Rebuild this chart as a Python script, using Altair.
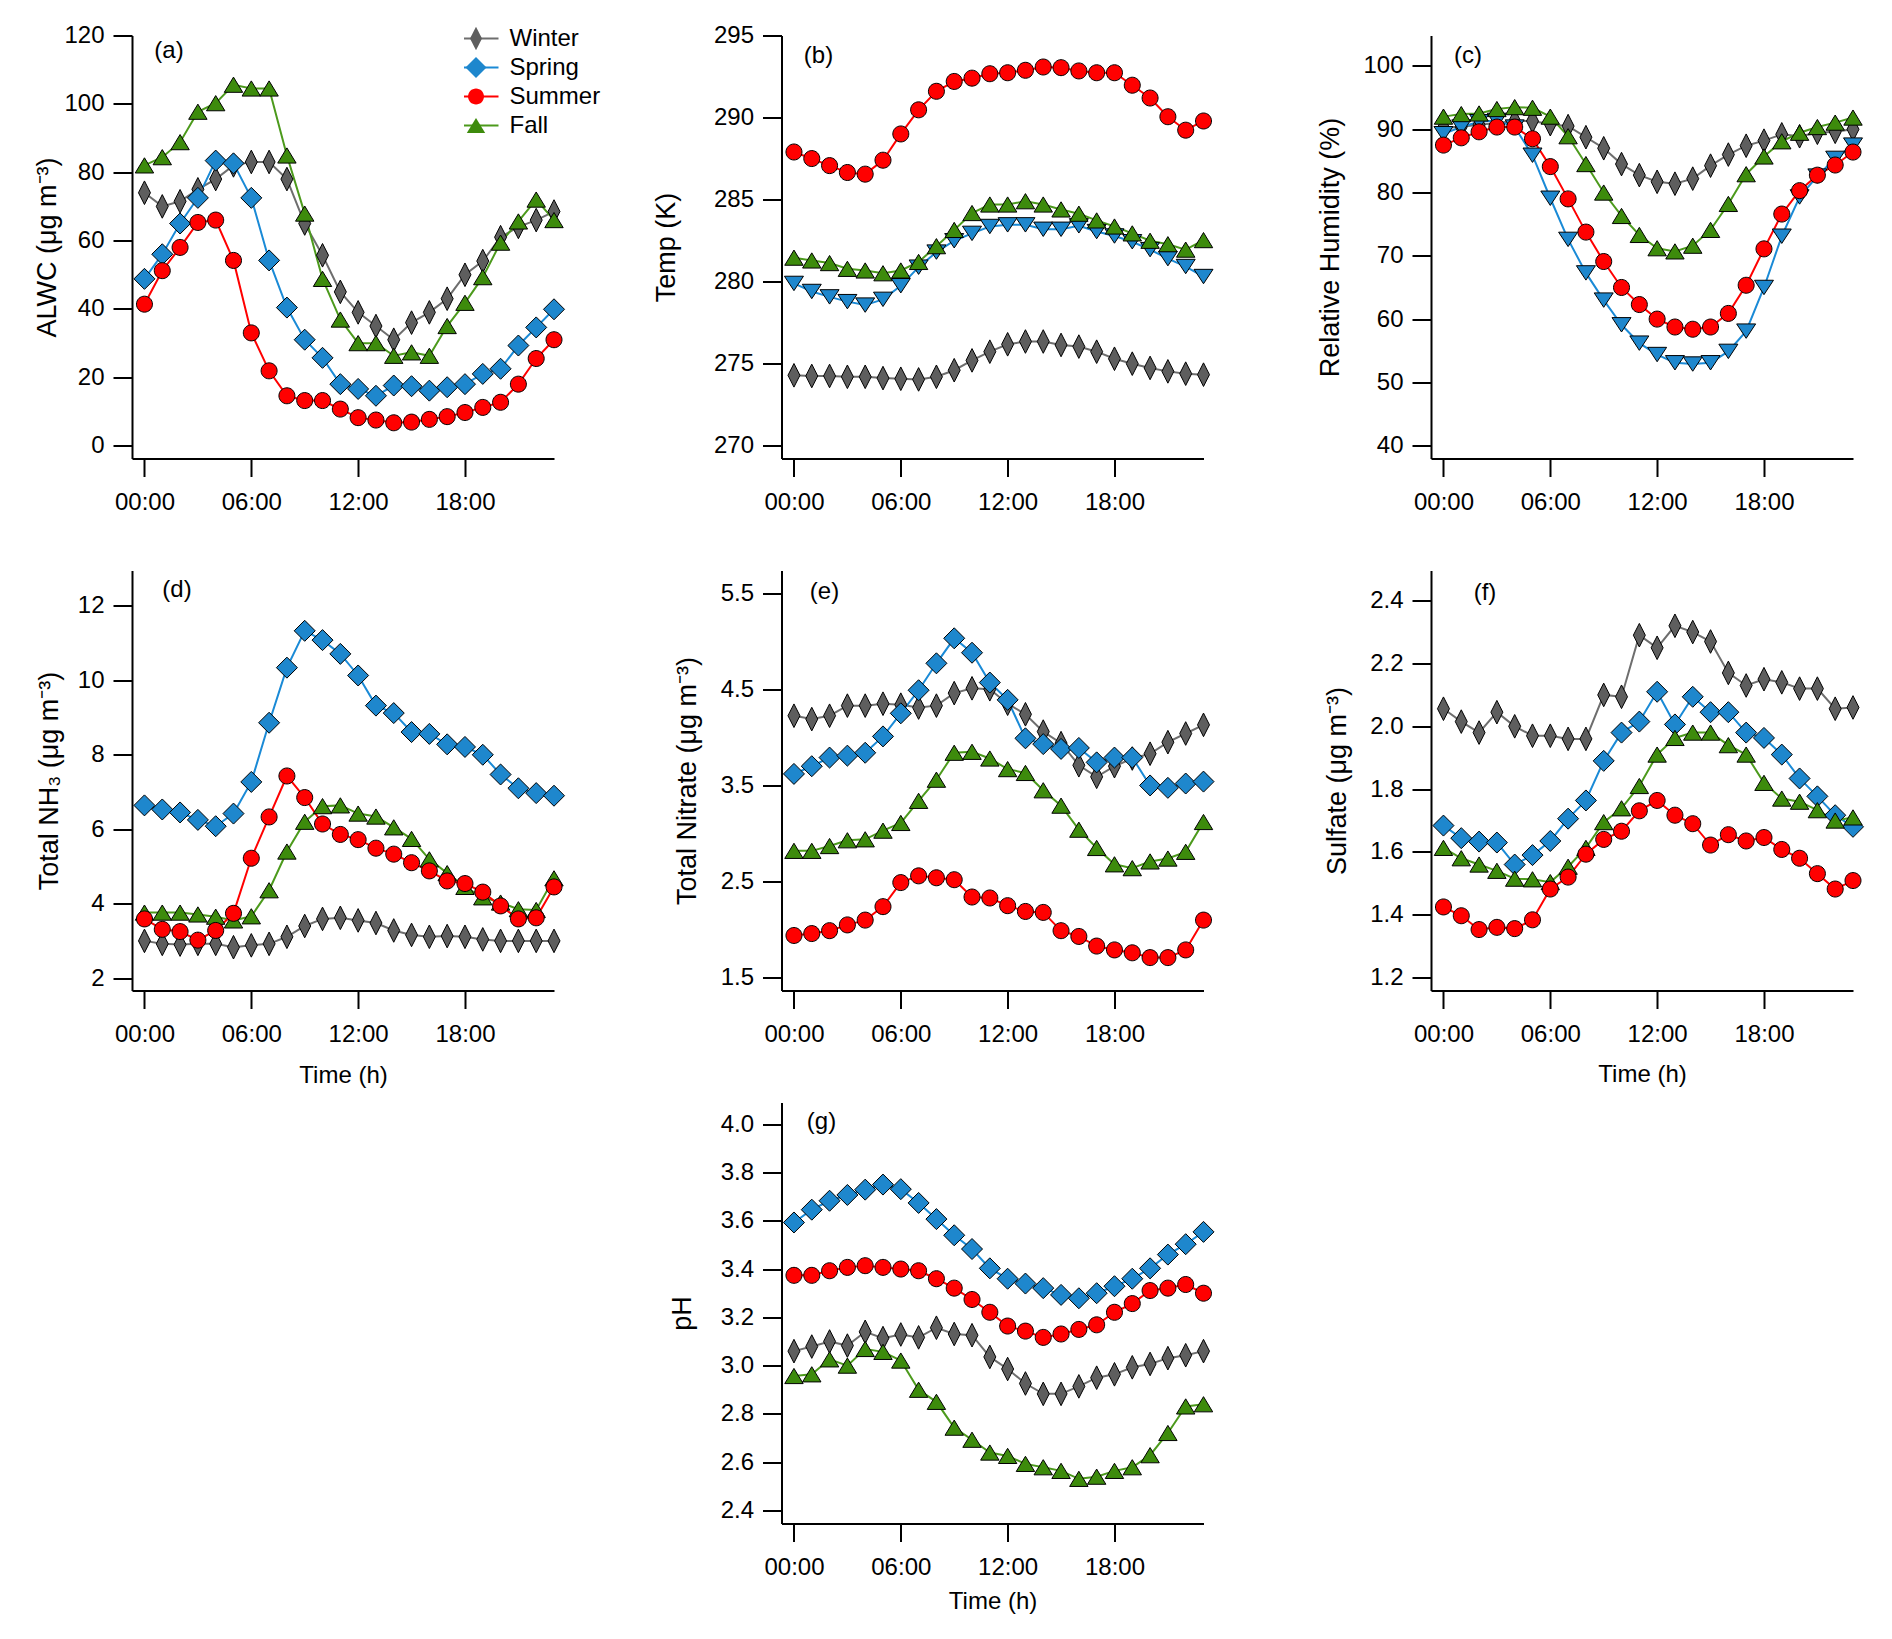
import json
import altair as alt
import pandas as pd

FONT = "Liberation Sans, Arial, sans-serif"

hours = list(range(24))
seasons = ["Winter", "Spring", "Summer", "Fall"]
draw_order = ["Winter", "Spring", "Fall", "Summer"]
x_tick_hours = [0, 6, 12, 18]
x_tick_labels = ["00:00", "06:00", "12:00", "18:00"]

# (a) ALWC (ug m-3)
alwc_winter = [74, 70, 71.5, 75, 78, 82, 83, 83, 78, 65, 55.7, 45, 39, 35, 31, 36, 39, 43, 50, 54, 61, 64, 66, 68.5]
alwc_spring = [48.8, 56, 65, 72.5, 83.4, 82.6, 72.5, 54.2, 40.4, 31, 25.7, 18, 16.6, 14.6, 17.6, 17.4, 16.1, 17.1, 18, 21, 22.5, 29.3, 34.6, 39.9]
alwc_summer = [41.4, 51.2, 58, 65.3, 66, 54.2, 33, 21.9, 14.6, 13.2, 13.2, 10.7, 8.2, 7.5, 6.7, 6.9, 7.7, 8.5, 9.7, 11.2, 12.7, 18, 25.5, 31]
alwc_fall = [82, 84.4, 88.8, 97.7, 100.2, 105.6, 104.5, 104.5, 84.9, 67.9, 48.8, 36.9, 30, 30, 26.3, 27.3, 26.3, 35, 41.8, 49.3, 59.4, 65.6, 72, 66]

# (b) Temp (K)
temp_winter = [274.29, 274.25, 274.25, 274.2, 274.2, 274.12, 274.08, 274.04, 274.2, 274.6, 275.2, 275.73, 276.18, 276.35, 276.35, 276.14, 276.04, 275.73, 275.3, 275.0, 274.74, 274.53, 274.39, 274.33]
temp_spring = [279.89, 279.4, 279.07, 278.78, 278.57, 278.92, 279.75, 280.88, 281.8, 282.49, 282.94, 283.36, 283.46, 283.46, 283.19, 283.19, 283.4, 283.05, 282.78, 282.43, 281.95, 281.4, 280.92, 280.31]
temp_summer = [287.9, 287.5, 287.07, 286.65, 286.55, 287.4, 289.0, 290.47, 291.6, 292.2, 292.4, 292.67, 292.73, 292.88, 293.08, 293.04, 292.84, 292.73, 292.73, 291.97, 291.19, 290.05, 289.23, 289.79]
temp_fall = [281.46, 281.29, 281.13, 280.78, 280.68, 280.51, 280.68, 281.2, 282.16, 283.15, 284.18, 284.7, 284.7, 284.9, 284.7, 284.4, 284.14, 283.73, 283.36, 282.94, 282.49, 282.28, 281.95, 282.53]

# (c) Relative humidity (%)
rh_winter = [90.25, 90.4, 90.7, 91, 91.3, 91.3, 90.8, 90.5, 88.75, 87.0, 84.5, 82.75, 81.7, 81.4, 82.2, 84.25, 86, 87.4, 88.2, 89.2, 88.9, 89.45, 89.6, 90]
rh_spring = [89.3, 90.35, 91.2, 91.4, 90.35, 85.9, 79.1, 72.6, 67.3, 63.0, 59.1, 56.2, 54.4, 53.1, 52.9, 53.1, 54.9, 58.1, 65.0, 73.1, 79.3, 82.6, 85.4, 87.5]
rh_summer = [87.5, 88.65, 89.6, 90.35, 90.35, 88.5, 84.1, 79, 73.75, 69.1, 65, 62.3, 60, 58.75, 58.4, 58.75, 60.9, 65.35, 71.1, 76.6, 80.3, 82.75, 84.35, 86.4]
rh_fall = [92, 92.4, 92.5, 93.2, 93.5, 93.4, 92, 88.9, 84.5, 80, 76.3, 73.3, 71.2, 70.7, 71.6, 74.1, 78.2, 82.9, 85.7, 88.1, 89.45, 90.35, 91.05, 91.85]

# (d) Total NH3 (ug m-3)
nh3_winter = [3.0, 2.92, 2.9, 2.92, 2.92, 2.83, 2.88, 2.92, 3.11, 3.4, 3.59, 3.62, 3.55, 3.48, 3.28, 3.16, 3.11, 3.13, 3.11, 3.04, 3.0, 3.0, 3.0, 3.0]
nh3_spring = [6.64, 6.53, 6.45, 6.25, 6.08, 6.42, 7.27, 8.86, 10.34, 11.33, 11.08, 10.71, 10.13, 9.32, 9.12, 8.61, 8.56, 8.28, 8.21, 8.0, 7.47, 7.1, 6.97, 6.9]
nh3_summer = [3.59, 3.31, 3.25, 3.02, 3.28, 3.74, 5.22, 6.33, 7.43, 6.85, 6.14, 5.86, 5.72, 5.49, 5.33, 5.1, 4.88, 4.61, 4.54, 4.31, 3.94, 3.59, 3.62, 4.45]
nh3_fall = [3.76, 3.76, 3.76, 3.71, 3.65, 3.55, 3.66, 4.36, 5.4, 6.2, 6.62, 6.64, 6.42, 6.34, 6.05, 5.74, 5.19, 4.82, 4.45, 4.17, 4.03, 3.85, 3.83, 4.68]

# (e) Total nitrate (ug m-3)
no3_winter = [4.225, 4.19, 4.225, 4.33, 4.33, 4.35, 4.34, 4.31, 4.33, 4.46, 4.51, 4.5, 4.35, 4.24, 4.06, 3.94, 3.71, 3.59, 3.7, 3.78, 3.83, 3.95, 4.04, 4.13]
no3_spring = [3.62, 3.7, 3.79, 3.81, 3.84, 4.01, 4.25, 4.49, 4.77, 5.03, 4.88, 4.57, 4.39, 3.99, 3.93, 3.88, 3.89, 3.74, 3.79, 3.79, 3.5, 3.475, 3.52, 3.54]
no3_summer = [1.94, 1.96, 1.99, 2.05, 2.1, 2.24, 2.49, 2.56, 2.54, 2.52, 2.34, 2.33, 2.25, 2.19, 2.18, 1.99, 1.93, 1.83, 1.79, 1.76, 1.71, 1.71, 1.79, 2.1]
no3_fall = [2.82, 2.82, 2.87, 2.93, 2.94, 3.03, 3.11, 3.34, 3.56, 3.84, 3.85, 3.78, 3.67, 3.63, 3.45, 3.29, 3.04, 2.85, 2.68, 2.64, 2.71, 2.74, 2.81, 3.12]

# (f) Sulfate (ug m-3)
so4_winter = [2.056, 2.015, 1.98, 2.045, 2.0, 1.97, 1.97, 1.96, 1.96, 2.1, 2.094, 2.29, 2.25, 2.32, 2.30, 2.27, 2.17, 2.13, 2.15, 2.14, 2.12, 2.12, 2.056, 2.06]
so4_spring = [1.684, 1.644, 1.633, 1.63, 1.56, 1.59, 1.635, 1.706, 1.764, 1.89, 1.98, 2.015, 2.11, 2.006, 2.094, 2.045, 2.045, 1.98, 1.963, 1.91, 1.834, 1.777, 1.717, 1.68]
so4_summer = [1.425, 1.397, 1.353, 1.36, 1.356, 1.384, 1.482, 1.52, 1.593, 1.64, 1.666, 1.731, 1.764, 1.717, 1.69, 1.622, 1.655, 1.635, 1.646, 1.608, 1.58, 1.531, 1.482, 1.509]
so4_fall = [1.613, 1.58, 1.56, 1.54, 1.515, 1.513, 1.504, 1.553, 1.613, 1.695, 1.739, 1.81, 1.91, 1.963, 1.98, 1.98, 1.94, 1.91, 1.82, 1.77, 1.76, 1.733, 1.70, 1.71]

# (g) pH
ph_winter = [3.06, 3.079, 3.1, 3.083, 3.14, 3.114, 3.129, 3.117, 3.157, 3.131, 3.126, 3.036, 2.986, 2.926, 2.883, 2.883, 2.914, 2.95, 2.964, 2.993, 3.007, 3.031, 3.043, 3.06]
ph_spring = [3.593, 3.646, 3.683, 3.707, 3.729, 3.75, 3.731, 3.674, 3.607, 3.54, 3.483, 3.403, 3.36, 3.34, 3.321, 3.293, 3.279, 3.3, 3.329, 3.36, 3.403, 3.46, 3.503, 3.554]
ph_summer = [3.374, 3.374, 3.393, 3.407, 3.414, 3.407, 3.4, 3.393, 3.36, 3.321, 3.274, 3.221, 3.164, 3.143, 3.117, 3.131, 3.15, 3.169, 3.221, 3.257, 3.311, 3.321, 3.336, 3.3]
ph_fall = [2.957, 2.964, 3.026, 3.0, 3.069, 3.057, 3.021, 2.9, 2.85, 2.743, 2.693, 2.64, 2.626, 2.593, 2.579, 2.564, 2.531, 2.54, 2.564, 2.579, 2.629, 2.721, 2.831, 2.84]

line_colors = ["#6e6e6e", "#1a8ad6", "#ff0000", "#4c9a1c"]
fill_colors = ["#5e5e5e", "#1e87cd", "#ff0000", "#3d8b0c"]

WINTER_SHAPE = "M0,-1.18L0.6,0L0,1.18L-0.6,0Z"
DIAMOND_SHAPE = "M0,-1.05L1.05,0L0,1.05L-1.05,0Z"
CIRCLE_SHAPE = "M0.8,0A0.8,0.8,0,1,1,-0.8,0A0.8,0.8,0,1,1,0.8,0Z"
TRI_UP = "M0,-0.76L0.92,0.76L-0.92,0.76Z"
TRI_DOWN = "M0,0.72L0.95,-0.72L-0.95,-0.72Z"
LEGEND_LINE = "M-2.25,0L2.25,0"
MARK_SIZE = 400

# line-legend domain values differ (trailing space) so the two legends are not merged
line_keys = [s + " " for s in seasons]

label_expr = f"{json.dumps(x_tick_labels)}[indexof({json.dumps(x_tick_hours)}, datum.value)]"

W = 422


def make_df(series):
    rows = []
    for s in draw_order:
        for h, v in zip(hours, series[s]):
            rows.append({"hour": h, "season": s, "season_l": s + " ", "value": v})
    return pd.DataFrame(rows)


def panel(series, ytitle, ydomain, yticks, yfmt, ytp, letter, lpos, h,
          spring_shape, xtitle_pad=None, legend=False):
    df = make_df(series)
    xkw = dict(values=x_tick_hours, labelExpr=label_expr)
    if xtitle_pad is not None:
        xkw.update(title="Time (h)", titlePadding=xtitle_pad)
    else:
        xkw.update(title=None)
    x = alt.X("hour:Q", scale=alt.Scale(domain=[-0.7, 23], nice=False, zero=False),
              axis=alt.Axis(**xkw))
    y = alt.Y("value:Q", scale=alt.Scale(domain=ydomain, nice=False, zero=False),
              axis=alt.Axis(values=yticks, format=yfmt, title=ytitle, titlePadding=ytp))
    shapes = [WINTER_SHAPE, spring_shape, CIRCLE_SHAPE, TRI_UP]
    if legend:
        common = dict(orient="none", legendX=332, legendY=-10, title=None,
                      symbolSize=MARK_SIZE, labelFont=FONT, labelFontSize=24,
                      labelOffset=21.5, rowPadding=3, padding=0, clipHeight=26)
        line_leg = alt.Legend(symbolType=LEGEND_LINE, symbolStrokeWidth=2,
                              labelExpr="''", zindex=1, **common)
        pt_leg = alt.Legend(symbolStrokeColor="black", symbolStrokeWidth=1,
                            labelColor="black", zindex=2, **common)
    else:
        line_leg = None
        pt_leg = None
    lines = alt.Chart(df).mark_line(strokeWidth=2).encode(
        x=x, y=y,
        stroke=alt.Stroke("season_l:N", scale=alt.Scale(domain=line_keys, range=line_colors),
                          legend=line_leg),
    )
    pts = alt.Chart(df).mark_point(filled=True, size=MARK_SIZE, opacity=1, stroke="black",
                                   strokeWidth=1).encode(
        x=x, y=y,
        fill=alt.Fill("season:N", scale=alt.Scale(domain=seasons, range=fill_colors),
                      legend=pt_leg),
        shape=alt.Shape("season:N", scale=alt.Scale(domain=seasons, range=shapes),
                        legend=pt_leg),
    )
    lab = alt.Chart(pd.DataFrame({"t": [letter]})).mark_text(
        font=FONT, fontSize=24, align="center", baseline="middle", color="black"
    ).encode(text="t:N", x=alt.value(lpos[0]), y=alt.value(lpos[1]))
    return alt.layer(lines, pts, lab).properties(width=W, height=h)


def S(w, sp, su, f):
    return {"Winter": w, "Spring": sp, "Summer": su, "Fall": f}


H1, H2, H3 = 423, 420, 421

pa = panel(S(alwc_winter, alwc_spring, alwc_summer, alwc_fall), "ALWC (μg m⁻³)",
           [-3.75, 120], [0, 20, 40, 60, 80, 100, 120], "d", 2, "(a)", (37, 15), H1,
           DIAMOND_SHAPE, legend=True)
pb = panel(S(temp_winter, temp_spring, temp_summer, temp_fall), "Temp (K)",
           [269.22, 295], [270, 275, 280, 285, 290, 295], "d", 33, "(b)", (37, 20), H1,
           TRI_DOWN)
pc = panel(S(rh_winter, rh_spring, rh_summer, rh_fall), "Relative Humidity (%)",
           [37.97, 104.82], [40, 50, 60, 70, 80, 90, 100], "d", 18, "(c)", (37, 20), H1,
           TRI_DOWN)
pd_ = panel(S(nh3_winter, nh3_spring, nh3_summer, nh3_fall), "Total NH₃ (μg m⁻³)",
            [1.667, 12.95], [2, 4, 6, 8, 10, 12], "d", 14, "(d)", (45, 19), H2,
            DIAMOND_SHAPE, xtitle_pad=17)
pe = panel(S(no3_winter, no3_spring, no3_summer, no3_fall), "Total Nitrate (μg m⁻³)",
           [1.368, 5.735], [1.5, 2.5, 3.5, 4.5, 5.5], ".1f", 18.5, "(e)", (43, 21), H2,
           DIAMOND_SHAPE)
pf = panel(S(so4_winter, so4_spring, so4_summer, so4_fall), "Sulfate (μg m⁻³)",
           [1.159, 2.496], [1.2, 1.4, 1.6, 1.8, 2.0, 2.2, 2.4], ".1f", 18.5, "(f)", (54, 22), H2,
           DIAMOND_SHAPE, xtitle_pad=16)
pg = panel(S(ph_winter, ph_spring, ph_summer, ph_fall), "pH",
           [2.346, 4.09], [2.4, 2.6, 2.8, 3.0, 3.2, 3.4, 3.6, 3.8, 4.0], ".1f", 23.5, "(g)", (40, 19), H3,
           DIAMOND_SHAPE, xtitle_pad=10)

blank = alt.Chart(pd.DataFrame({"t": [""]})).mark_text().encode(text="t:N").properties(
    width=W, height=H3)

chart = alt.concat(
    pa, pb, pc, pd_, pe, pf, blank, pg,
    columns=3, spacing={"row": 112, "column": 227.5}, bounds="flush",
).resolve_scale(
    fill="independent", stroke="independent", shape="independent"
).properties(
    padding={"left": 25, "top": 15.5, "right": 8, "bottom": 5}
).configure_view(
    stroke=None
).configure_axis(
    grid=False, domainColor="black", domainWidth=2, tickColor="black", tickWidth=2,
    labelFont=FONT, titleFont=FONT, labelColor="black", titleColor="black",
    labelFontSize=24, titleFontWeight="normal",
).configure_axisX(
    tickSize=18, labelPadding=14, titleFontSize=24,
).configure_axisY(
    tickSize=19, labelPadding=9, titleFontSize=27,
)

chart.save("out.html", embed_options={"renderer": "svg", "actions": False})
